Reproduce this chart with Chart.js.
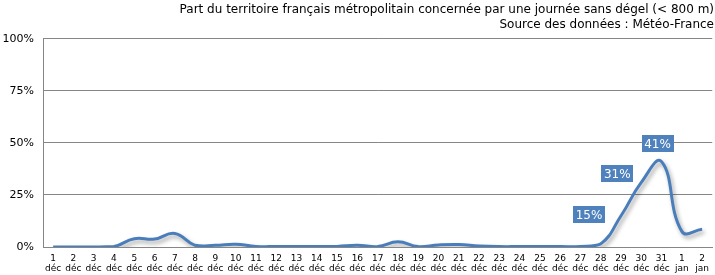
<!DOCTYPE html>
<html>
<head>
<meta charset="utf-8">
<script src="https://cdn.jsdelivr.net/npm/chart.js@4/dist/chart.umd.min.js"></script>
<style>
  html, body { margin: 0; padding: 0; background: #fff; }
  #wrap { width: 715px; height: 275px; }
</style>
</head>
<body>
<div id="wrap"><canvas id="chart"></canvas></div>
<script>
const days = ["1", "2", "3", "4", "5", "6", "7", "8", "9", "10", "11", "12", "13", "14", "15", "16",
  "17", "18", "19", "20", "21", "22", "23", "24", "25", "26", "27", "28", "29", "30", "31", "1", "2"];
const months = ["déc", "déc", "déc", "déc", "déc", "déc", "déc", "déc", "déc", "déc", "déc", "déc",
  "déc", "déc", "déc", "déc", "déc", "déc", "déc", "déc", "déc", "déc", "déc", "déc", "déc", "déc",
  "déc", "déc", "déc", "déc", "déc", "jan", "jan"];
const share = [0, 0, 0, 0.2, 4, 3.8, 6.5, 0.8, 0.8, 1.3, 0.3, 0.2, 0.2, 0.2, 0.3, 0.8,
  0.2, 2.5, 0.2, 1, 1.2, 0.5, 0.2, 0.2, 0.2, 0.2, 0.3, 1.5, 15, 31, 41, 7.5, 8.5];
const labelled = [28, 29, 30];          // indexes that get a value label
const labelText = ["15%", "31%", "41%"];
const yTicks = [0, 25, 50, 75, 100];
const titleLines = [
  "Part du territoire français métropolitain concernée par une journée sans dégel (< 800 m)",
  "Source des données : Météo-France"
];

const FONT = "'DejaVu Sans', Verdana, sans-serif";
const BLUE = "#4a7ebb";
const GRID = "#868686";

// soft shadow under the line, as in the original
const lineShadow = {
  id: "lineShadow",
  beforeDatasetDraw(chart) {
    const ctx = chart.ctx;
    ctx.save();
    ctx.shadowColor = "rgba(0,0,0,0.35)";
    ctx.shadowBlur = 4;
    ctx.shadowOffsetX = 2;
    ctx.shadowOffsetY = 3;
  },
  afterDatasetDraw(chart) {
    chart.ctx.restore();
  }
};

// boxed value labels
const valueLabels = {
  id: "valueLabels",
  afterDatasetsDraw(chart) {
    const ctx = chart.ctx;
    const meta = chart.getDatasetMeta(0);
    ctx.save();
    ctx.font = "12px " + FONT;
    ctx.textAlign = "center";
    ctx.textBaseline = "middle";
    labelled.forEach((idx, k) => {
      const pt = meta.data[idx];
      const w = 32, h = 17;
      let cx, cy;
      if (k < 2) {
        cx = pt.x - 8 - w / 2 - (k === 0 ? 8 : 0);
        cy = pt.y - (k === 0 ? 1 : 9);
      } else {
        cx = pt.x - 4;
        cy = pt.y - 18;
      }
      ctx.fillStyle = "#4f81bd";
      ctx.fillRect(Math.round(cx - w / 2), Math.round(cy - h / 2), w, h);
      ctx.fillStyle = "#fff";
      ctx.fillText(labelText[k], cx, cy + 1);
    });
    ctx.restore();
  }
};

new Chart(document.getElementById("chart"), {
  type: "line",
  data: {
    labels: days.map((d, i) => [d, months[i]]),
    datasets: [{
      data: share,
      borderColor: BLUE,
      borderWidth: 3,
      pointRadius: 0,
      tension: 0.45,
      fill: false
    }]
  },
  options: {
    responsive: true,
    maintainAspectRatio: false,
    animation: false,
    layout: { padding: { left: 0, right: 1, top: 0, bottom: 0 } },
    plugins: {
      legend: { display: false },
      tooltip: { enabled: false },
      title: {
        display: true,
        text: titleLines,
        align: "end",
        color: "#000",
        font: { family: FONT, size: 12, weight: "normal", lineHeight: 1.2 },
        padding: { top: 3, bottom: 7 }
      }
    },
    scales: {
      x: {
        offset: true,
        afterFit(scale) { scale.height = 28; },
        grid: { display: false, drawTicks: false },
        border: { color: GRID, width: 1 },
        ticks: {
          autoSkip: false,
          maxRotation: 0,
          minRotation: 0,
          color: "#000",
          padding: 6,
          font: { family: FONT, size: 9, lineHeight: 1.15 }
        }
      },
      y: {
        min: 0,
        max: 100,
        afterBuildTicks(scale) { scale.ticks = yTicks.map(v => ({ value: v })); },
        afterFit(scale) { scale.width = 43; },
        grid: { color: GRID, lineWidth: 1, drawTicks: false },
        border: { color: GRID, width: 1 },
        ticks: {
          color: "#000",
          padding: 9,
          font: { family: FONT, size: 11 },
          callback: v => v + "%"
        }
      }
    }
  },
  plugins: [lineShadow, valueLabels]
});
</script>
</body>
</html>
